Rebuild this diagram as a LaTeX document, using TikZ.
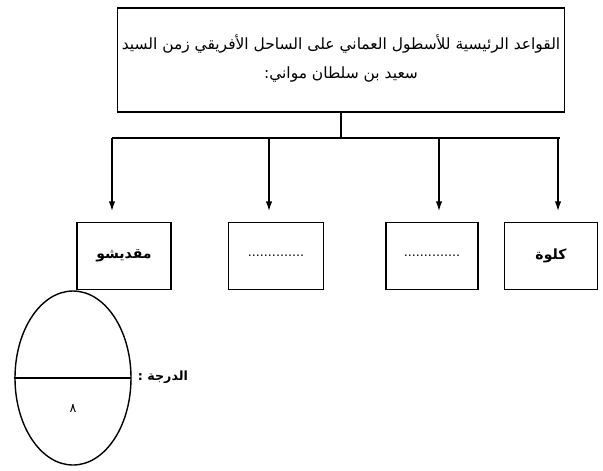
\documentclass[tikz,border=0pt]{standalone}
\usepackage{fontspec}
\usetikzlibrary{arrows.meta}
\TeXXeTstate=1
\newfontfamily\arabicfont[Script=Arabic]{DejaVu Sans}

\tikzset{
  mainbox/.style={draw, line width=1.4pt, minimum width=447*0.025cm, minimum height=104*0.025cm, inner sep=0pt},
  portbox/.style={draw, line width=1.2pt, minimum height=67*0.025cm, inner sep=0pt},
  portname/.style={font=\arabicfont\bfseries\fontsize{10}{12}\selectfont},
  feed/.style={line width=0.9pt},
  feedarrow/.style={feed, -{Latex[length=2.4mm,width=1.6mm]}},
}

\begin{document}
\begin{tikzpicture}[x=0.025cm, y=-0.025cm]
  \useasboundingbox (0,0) rectangle (603,470);
  % main box
  \node[mainbox] (main) at (341,60) {};
  \node[font=\arabicfont\fontsize{11}{14}\selectfont] (line1) at (341,44)
    {\beginR القواعد الرئيسية للأسطول العماني على الساحل الأفريقي زمن السيد\endR};
  \node[font=\arabicfont\fontsize{11}{14}\selectfont] (line2) at (341,75)
    {\beginR سعيد بن سلطان مواني:\endR};
  % the four ports
  \node[portbox, portname, minimum width=94*0.025cm] (mogadishu) at (124,256) {\beginR مقديشو\endR};
  \node[portbox, minimum width=95*0.025cm] (blanka) at (276,256) {\arabicfont\fontsize{9}{12}\selectfont ..............};
  \node[portbox, minimum width=92*0.025cm] (blankb) at (432,256) {\arabicfont\fontsize{9}{12}\selectfont ..............};
  \node[portbox, portname, minimum width=93*0.025cm] (kilwa) at (551,256) {\beginR كلوة\endR};
  % bus and arrows
  \coordinate (hub) at (341,138);
  \coordinate (b1) at (112,138);
  \coordinate (b4) at (560,138);
  \draw[feed] (main.south -| hub) -- (hub);
  \draw[feed] (b1) -- (b4);
  \foreach \x/\n in {112/1, 269/2, 439/3, 558/4} {
    \coordinate (s\n) at (\x,138);
    \coordinate (t\n) at (\x,211);
    \draw[feedarrow] (s\n) -- (t\n);
  }
  % degree circle
  \draw[line width=1pt] (73,378) ellipse (58 and 87);
  \coordinate (dl) at (14,378);
  \coordinate (dr) at (131,378);
  \draw[line width=1.4pt] (dl) -- (dr);
  \node[font=\arabicfont\fontsize{9}{12}\selectfont] (eight) at (73,408) {\beginR ٨\endR};
  \node[font=\arabicfont\bfseries\fontsize{9}{12}\selectfont, anchor=west] (grade) at (133,377) {\beginR الدرجة :\endR};
\end{tikzpicture}
\end{document}
